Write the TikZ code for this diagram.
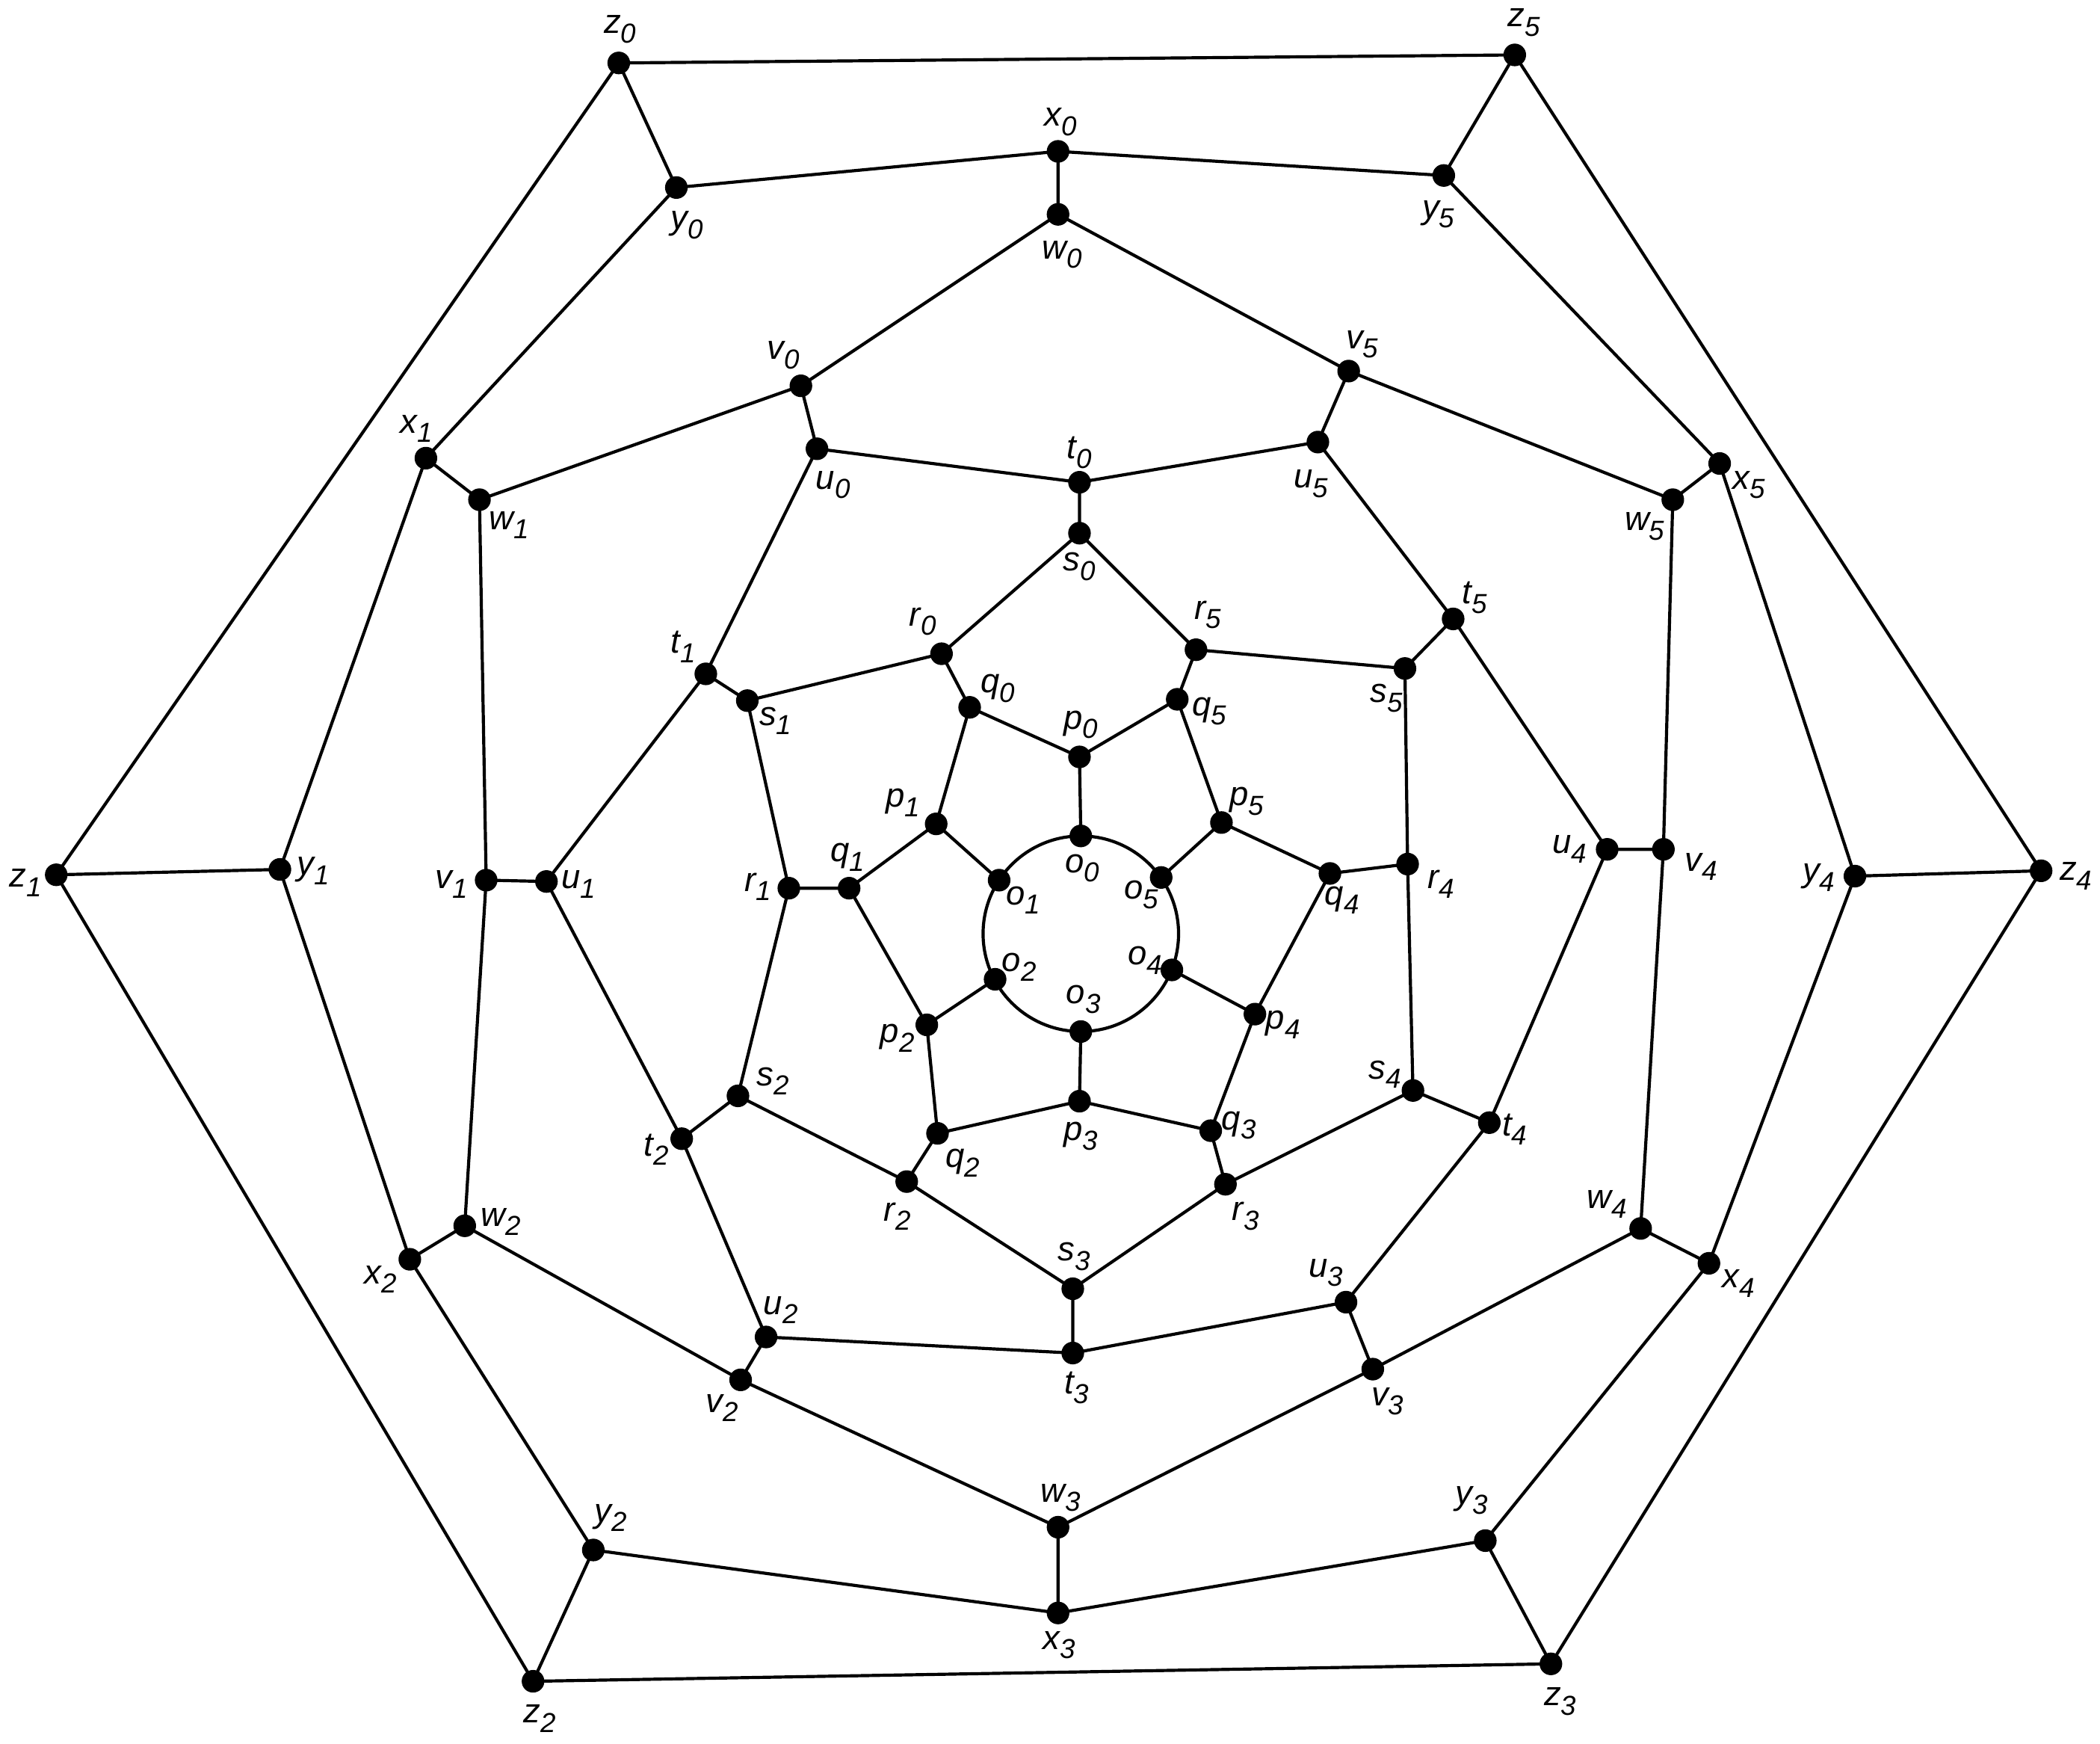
\documentclass[tikz,border=0pt]{standalone}
\usepackage{fontspec}
\setmainfont{Liberation Sans}
\def \globalscale {1.000000}
\newcommand{\lb}[2]{#1\raisebox{-3.6pt}{\fontsize{10.5}{10.5}\selectfont #2}}
\tikzset{
  vtx/.style={circle,draw=black,fill=black,minimum size=0.29cm,inner sep=0pt},
  lbl/.style={text=black,font=\fontsize{13}{15}\selectfont\itshape,anchor=center},
  edge/.style={draw=black,line width=0.042cm}
}
\begin{document}
\begin{tikzpicture}[y=-0.018cm, x=0.018cm, yscale=\globalscale,xscale=\globalscale, every node/.append style={scale=\globalscale}, inner sep=0pt, outer sep=0pt]
  \useasboundingbox (0,0) rectangle (1568,1301.3);

  % vertices, ring z
  \node[vtx] (z0) at (462,47) {};
  \node[vtx] (z5) at (1131,41) {};
  \node[vtx] (z4) at (1524,650) {};
  \node[vtx] (z3) at (1158,1242) {};
  \node[vtx] (z2) at (398,1255) {};
  \node[vtx] (z1) at (42,653) {};

  % ring y
  \node[vtx] (y0) at (505,140) {};
  \node[vtx] (y5) at (1078,131) {};
  \node[vtx] (y4) at (1385,654) {};
  \node[vtx] (y3) at (1109,1150) {};
  \node[vtx] (y2) at (443,1157) {};
  \node[vtx] (y1) at (209,649) {};

  % ring x
  \node[vtx] (x0) at (790,113) {};
  \node[vtx] (x5) at (1284,346) {};
  \node[vtx] (x4) at (1276,943) {};
  \node[vtx] (x3) at (790,1204) {};
  \node[vtx] (x2) at (306,940) {};
  \node[vtx] (x1) at (318,342) {};

  % ring w
  \node[vtx] (w0) at (790,160) {};
  \node[vtx] (w5) at (1249,373) {};
  \node[vtx] (w4) at (1225,917) {};
  \node[vtx] (w3) at (790,1140) {};
  \node[vtx] (w2) at (347,915) {};
  \node[vtx] (w1) at (358,373) {};

  % ring v
  \node[vtx] (v0) at (598,288) {};
  \node[vtx] (v5) at (1007,277) {};
  \node[vtx] (v4) at (1242,634) {};
  \node[vtx] (v3) at (1025,1022) {};
  \node[vtx] (v2) at (553,1030) {};
  \node[vtx] (v1) at (363,657) {};

  % ring u
  \node[vtx] (u0) at (610,335) {};
  \node[vtx] (u5) at (984,330) {};
  \node[vtx] (u4) at (1200,634) {};
  \node[vtx] (u3) at (1005,972) {};
  \node[vtx] (u2) at (572,998) {};
  \node[vtx] (u1) at (408,658) {};

  % ring t
  \node[vtx] (t0) at (806,360) {};
  \node[vtx] (t5) at (1085,462) {};
  \node[vtx] (t4) at (1112,838) {};
  \node[vtx] (t3) at (801,1010) {};
  \node[vtx] (t2) at (509,850) {};
  \node[vtx] (t1) at (527,503) {};

  % ring s
  \node[vtx] (s0) at (806,398) {};
  \node[vtx] (s5) at (1049,499) {};
  \node[vtx] (s4) at (1055,814) {};
  \node[vtx] (s3) at (801,962) {};
  \node[vtx] (s2) at (551,818) {};
  \node[vtx] (s1) at (558,523) {};

  % ring r
  \node[vtx] (r0) at (703,488) {};
  \node[vtx] (r5) at (893,485) {};
  \node[vtx] (r4) at (1051,645) {};
  \node[vtx] (r3) at (915,884) {};
  \node[vtx] (r2) at (677,882) {};
  \node[vtx] (r1) at (589,663) {};

  % ring q
  \node[vtx] (q0) at (724,528) {};
  \node[vtx] (q5) at (879,522) {};
  \node[vtx] (q4) at (993,652) {};
  \node[vtx] (q3) at (904,844) {};
  \node[vtx] (q2) at (700,846) {};
  \node[vtx] (q1) at (634,663) {};

  % ring p
  \node[vtx] (p0) at (806,565) {};
  \node[vtx] (p5) at (912,614) {};
  \node[vtx] (p4) at (937,757) {};
  \node[vtx] (p3) at (806,822) {};
  \node[vtx] (p2) at (692,765) {};
  \node[vtx] (p1) at (699,615) {};

  % ring o, on the circle
  \node[vtx] (o0) at (807,624) {};
  \node[vtx] (o5) at (867,655) {};
  \node[vtx] (o4) at (875,724) {};
  \node[vtx] (o3) at (807,770) {};
  \node[vtx] (o2) at (743,731) {};
  \node[vtx] (o1) at (746,657) {};

  % edges
  \path[edge] (807,697) circle (1.314cm);

  \path[edge] (z0) -- (z5) -- (z4) -- (z3) -- (z2) -- (z1) -- (z0);

  \path[edge] (z0) -- (y0) (z5) -- (y5) (z4) -- (y4) (z3) -- (y3) (z2) -- (y2) (z1) -- (y1);

  \path[edge] (y0) -- (x0) -- (y5) -- (x5) -- (y4) -- (x4) -- (y3) -- (x3) -- (y2) -- (x2) -- (y1) -- (x1) -- (y0);

  \path[edge] (x0) -- (w0) (x5) -- (w5) (x4) -- (w4) (x3) -- (w3) (x2) -- (w2) (x1) -- (w1);

  \path[edge] (w0) -- (v5) -- (w5) -- (v4) -- (w4) -- (v3) -- (w3) -- (v2) -- (w2) -- (v1) -- (w1) -- (v0) -- (w0);

  \path[edge] (v0) -- (u0) (v5) -- (u5) (v4) -- (u4) (v3) -- (u3) (v2) -- (u2) (v1) -- (u1);

  \path[edge] (u0) -- (t0) -- (u5) -- (t5) -- (u4) -- (t4) -- (u3) -- (t3) -- (u2) -- (t2) -- (u1) -- (t1) -- (u0);

  \path[edge] (t0) -- (s0) (t5) -- (s5) (t4) -- (s4) (t3) -- (s3) (t2) -- (s2) (t1) -- (s1);

  \path[edge] (s0) -- (r5) -- (s5) -- (r4) -- (s4) -- (r3) -- (s3) -- (r2) -- (s2) -- (r1) -- (s1) -- (r0) -- (s0);

  \path[edge] (r0) -- (q0) (r5) -- (q5) (r4) -- (q4) (r3) -- (q3) (r2) -- (q2) (r1) -- (q1);

  \path[edge] (q0) -- (p0) -- (q5) -- (p5) -- (q4) -- (p4) -- (q3) -- (p3) -- (q2) -- (p2) -- (q1) -- (p1) -- (q0);

  \path[edge] (p0) -- (o0) (p5) -- (o5) (p4) -- (o4) (p3) -- (o3) (p2) -- (o2) (p1) -- (o1);

  % labels
  \node[lbl] (textz0) at (463,22) {\lb{z}{0}};
  \node[lbl] (textz5) at (1138,17) {\lb{z}{5}};
  \node[lbl] (textz4) at (1550,654) {\lb{z}{4}};
  \node[lbl] (textz3) at (1165,1270) {\lb{z}{3}};
  \node[lbl] (textz2) at (403,1283) {\lb{z}{2}};
  \node[lbl] (textz1) at (19,659) {\lb{z}{1}};

  \node[lbl] (texty0) at (513,168) {\lb{y}{0}};
  \node[lbl] (texty5) at (1074,160) {\lb{y}{5}};
  \node[lbl] (texty4) at (1358,655) {\lb{y}{4}};
  \node[lbl] (texty3) at (1099,1120) {\lb{y}{3}};
  \node[lbl] (texty2) at (456,1133) {\lb{y}{2}};
  \node[lbl] (texty1) at (234,650) {\lb{y}{1}};

  \node[lbl] (textx0) at (792,91) {\lb{x}{0}};
  \node[lbl] (textx5) at (1306,362) {\lb{x}{5}};
  \node[lbl] (textx4) at (1298,958) {\lb{x}{4}};
  \node[lbl] (textx3) at (791,1228) {\lb{x}{3}};
  \node[lbl] (textx2) at (284,955) {\lb{x}{2}};
  \node[lbl] (textx1) at (311,320) {\lb{x}{1}};

  \node[lbl] (textw0) at (793,190) {\lb{w}{0}};
  \node[lbl] (textw5) at (1228,393) {\lb{w}{5}};
  \node[lbl] (textw4) at (1200,899) {\lb{w}{4}};
  \node[lbl] (textw3) at (792,1118) {\lb{w}{3}};
  \node[lbl] (textw2) at (374,912) {\lb{w}{2}};
  \node[lbl] (textw1) at (380,392) {\lb{w}{1}};

  \node[lbl] (textv0) at (585,265) {\lb{v}{0}};
  \node[lbl] (textv5) at (1017,257) {\lb{v}{5}};
  \node[lbl] (textv4) at (1270,647) {\lb{v}{4}};
  \node[lbl] (textv3) at (1036,1046) {\lb{v}{3}};
  \node[lbl] (textv2) at (539,1051) {\lb{v}{2}};
  \node[lbl] (textv1) at (337,660) {\lb{v}{1}};

  \node[lbl] (textu0) at (622,362) {\lb{u}{0}};
  \node[lbl] (textu5) at (979,361) {\lb{u}{5}};
  \node[lbl] (textu4) at (1172,634) {\lb{u}{4}};
  \node[lbl] (textu3) at (990,950) {\lb{u}{3}};
  \node[lbl] (textu2) at (583,978) {\lb{u}{2}};
  \node[lbl] (textu1) at (432,660) {\lb{u}{1}};

  \node[lbl] (textt0) at (806,338) {\lb{t}{0}};
  \node[lbl] (textt5) at (1101,446) {\lb{t}{5}};
  \node[lbl] (textt4) at (1131,843) {\lb{t}{4}};
  \node[lbl] (textt3) at (804,1036) {\lb{t}{3}};
  \node[lbl] (textt2) at (490,858) {\lb{t}{2}};
  \node[lbl] (textt1) at (510,483) {\lb{t}{1}};

  \node[lbl] (texts0) at (806,423) {\lb{s}{0}};
  \node[lbl] (texts5) at (1035,521) {\lb{s}{5}};
  \node[lbl] (texts4) at (1034,802) {\lb{s}{4}};
  \node[lbl] (texts3) at (802,938) {\lb{s}{3}};
  \node[lbl] (texts2) at (577,807) {\lb{s}{2}};
  \node[lbl] (texts1) at (579,538) {\lb{s}{1}};

  \node[lbl] (textr0) at (689,464) {\lb{r}{0}};
  \node[lbl] (textr5) at (902,459) {\lb{r}{5}};
  \node[lbl] (textr4) at (1076,660) {\lb{r}{4}};
  \node[lbl] (textr3) at (930,908) {\lb{r}{3}};
  \node[lbl] (textr2) at (670,908) {\lb{r}{2}};
  \node[lbl] (textr1) at (566,662) {\lb{r}{1}};

  \node[lbl] (textq0) at (745,514) {\lb{q}{0}};
  \node[lbl] (textq5) at (903,531) {\lb{q}{5}};
  \node[lbl] (textq4) at (1002,672) {\lb{q}{4}};
  \node[lbl] (textq3) at (925,840) {\lb{q}{3}};
  \node[lbl] (textq2) at (719,868) {\lb{q}{2}};
  \node[lbl] (textq1) at (633,640) {\lb{q}{1}};

  \node[lbl] (textp0) at (807,541) {\lb{p}{0}};
  \node[lbl] (textp5) at (931,598) {\lb{p}{5}};
  \node[lbl] (textp4) at (958,765) {\lb{p}{4}};
  \node[lbl] (textp3) at (807,848) {\lb{p}{3}};
  \node[lbl] (textp2) at (670,775) {\lb{p}{2}};
  \node[lbl] (textp1) at (674,599) {\lb{p}{1}};

  \node[lbl] (texto0) at (808,648) {\lb{o}{0}};
  \node[lbl] (texto5) at (852,668) {\lb{o}{5}};
  \node[lbl] (texto4) at (855,717) {\lb{o}{4}};
  \node[lbl] (texto3) at (809,746) {\lb{o}{3}};
  \node[lbl] (texto2) at (761,722) {\lb{o}{2}};
  \node[lbl] (texto1) at (764,672) {\lb{o}{1}};

\end{tikzpicture}
\end{document}
